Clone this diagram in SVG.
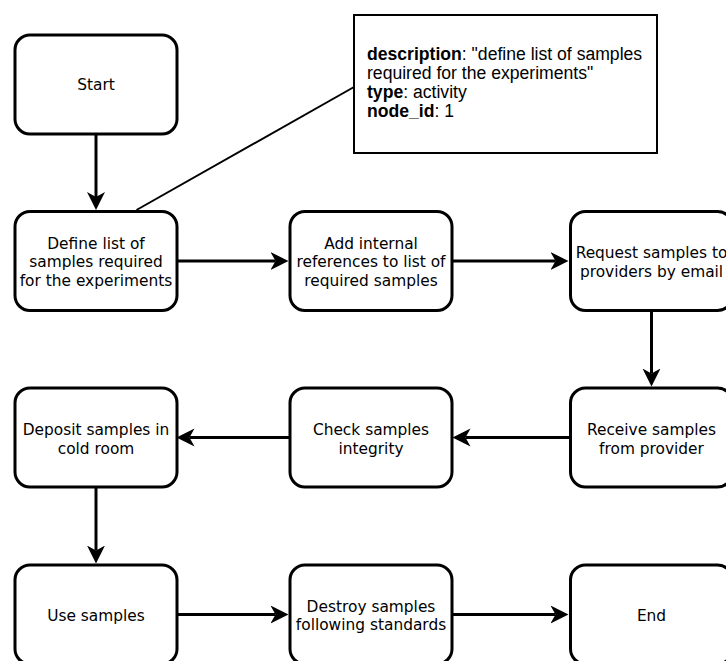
<svg xmlns="http://www.w3.org/2000/svg" width="726" height="661" viewBox="0 0 726 661">
<defs>
<marker id="arr" markerUnits="userSpaceOnUse" markerWidth="20" markerHeight="20" viewBox="0 0 20 20" refX="5" refY="10" orient="auto">
<path d="M0,1 L18,10 L0,19 L5,10 Z" fill="#000"/>
</marker>
<style>
.n{fill:#fff;stroke:#000;stroke-width:3}
.t{font-family:"DejaVu Sans",Verdana,sans-serif;font-size:15.4px;fill:#000;text-anchor:middle}
.c{fill:none;stroke:#000;stroke-width:3;marker-end:url(#arr)}
.note{fill:#fff;stroke:#000;stroke-width:2}
.nt{font-family:"Liberation Sans",Arial,sans-serif;font-size:17.6px;fill:#000}
.b{font-weight:bold}
</style>
</defs>
<rect width="726" height="661" fill="#fff"/>
<g id="connectors">
<line class="c" x1="96" y1="134" x2="96" y2="197"/>
<line class="c" x1="177" y1="261" x2="275.5" y2="261"/>
<line class="c" x1="452" y1="261" x2="555.5" y2="261"/>
<line class="c" x1="651.5" y1="310" x2="651.5" y2="373.5"/>
<line class="c" x1="569" y1="437.5" x2="465.5" y2="437.5"/>
<line class="c" x1="290" y1="437.5" x2="189.5" y2="437.5"/>
<line class="c" x1="96" y1="487" x2="96" y2="550.5"/>
<line class="c" x1="177" y1="614.5" x2="275.5" y2="614.5"/>
<line class="c" x1="452" y1="614.5" x2="555.5" y2="614.5"/>
<line x1="136.5" y1="210" x2="354" y2="87" stroke="#000" stroke-width="2"/>
</g>
<g id="note">
<rect class="note" x="354" y="15" width="303" height="138"/>
<text class="nt" x="367" y="60"><tspan class="b">description</tspan>: "define list of samples</text>
<text class="nt" x="367" y="79">required for the experiments"</text>
<text class="nt" x="367" y="98"><tspan class="b">type</tspan>: activity</text>
<text class="nt" x="367" y="117"><tspan class="b">node_id</tspan>: 1</text>
</g>
<g id="start">
<rect class="n" x="15" y="35" width="162" height="99" rx="15"/>
<text class="t" x="96" y="90">Start</text>
</g>
<g id="define">
<rect class="n" x="15" y="211.5" width="162" height="99" rx="15"/>
<text class="t" x="96" y="248.5">Define list of</text>
<text class="t" x="96" y="267">samples required</text>
<text class="t" x="96" y="285.5">for the experiments</text>
</g>
<g id="add">
<rect class="n" x="290" y="211.5" width="162" height="99" rx="15"/>
<text class="t" x="371" y="248.5">Add internal</text>
<text class="t" x="371" y="267">references to list of</text>
<text class="t" x="371" y="285.5">required samples</text>
</g>
<g id="request">
<rect class="n" x="570.5" y="211.5" width="162" height="99" rx="15"/>
<text class="t" x="651.5" y="258">Request samples to</text>
<text class="t" x="651.5" y="276.5">providers by email</text>
</g>
<g id="receive">
<rect class="n" x="570.5" y="388" width="162" height="99" rx="15"/>
<text class="t" x="651.5" y="435">Receive samples</text>
<text class="t" x="651.5" y="453.5">from provider</text>
</g>
<g id="check">
<rect class="n" x="290" y="388" width="162" height="99" rx="15"/>
<text class="t" x="371" y="435">Check samples</text>
<text class="t" x="371" y="453.5">integrity</text>
</g>
<g id="deposit">
<rect class="n" x="15" y="388" width="162" height="99" rx="15"/>
<text class="t" x="96" y="435">Deposit samples in</text>
<text class="t" x="96" y="453.5">cold room</text>
</g>
<g id="use">
<rect class="n" x="15" y="565" width="162" height="99" rx="15"/>
<text class="t" x="96" y="621">Use samples</text>
</g>
<g id="destroy">
<rect class="n" x="290" y="565" width="162" height="99" rx="15"/>
<text class="t" x="371" y="611.5">Destroy samples</text>
<text class="t" x="371" y="630">following standards</text>
</g>
<g id="end">
<rect class="n" x="570.5" y="565" width="162" height="99" rx="15"/>
<text class="t" x="651.5" y="621">End</text>
</g>
</svg>
